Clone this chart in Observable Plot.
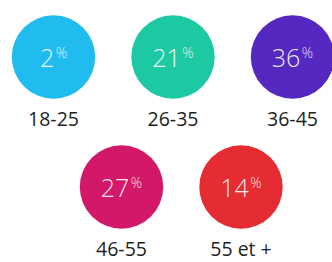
<!DOCTYPE html>
<html>
<head>
<meta charset="utf-8">
<script src="https://cdn.jsdelivr.net/npm/d3@7"></script>
<script src="https://cdn.jsdelivr.net/npm/@observablehq/plot@0.6"></script>
<style>
  html, body { margin: 0; padding: 0; background: #fff; }
  #chart { width: 332px; height: 262px; }
</style>
</head>
<body>
<div id="chart"></div>
<script>
// Data
const categories = ["18-25", "26-35", "36-45", "46-55", "55 et +"];
const values = [2, 21, 36, 27, 14];
const colors = ["#20bcef", "#1cc9a3", "#5428c1", "#d31769", "#e52c33"];

// Layout (positions computed from order: 3 on the first row, 2 on the second)
const W = 332, H = 262;
const R = 41.7;
const rowY = [56.5, 186.5];
const rowX0 = [53, 121];
const stepX = 119.5;
const perRow = 3;

const numFont = "300 25px 'Open Sans'";
const pctFont = "300 14px 'Open Sans'";
const ctx = document.createElement("canvas").getContext("2d");
function measure(txt, font) { ctx.font = font; return ctx.measureText(txt).width; }

const data = categories.map((c, i) => {
  const row = i < perRow ? 0 : 1;
  const col = row === 0 ? i : i - perRow;
  const num = String(values[i]);
  const wn = measure(num, numFont);
  const wp = measure("%", pctFont);
  const gap = 1.5;
  const total = wn + gap + wp;
  return {
    category: c,
    value: values[i],
    color: colors[i],
    x: rowX0[row] + col * stepX,
    y: rowY[row],
    row,
    numDx: -total / 2 + wn,      // end anchor of number
    pctDx: -total / 2 + wn + gap // start anchor of percent
  };
});

const chart = Plot.plot({
  width: W,
  height: H,
  margin: 0,
  x: { domain: [0, W], range: [0, W], axis: null },
  y: { domain: [0, H], range: [0, H], axis: null },
  marks: [
    Plot.dot(data, { x: "x", y: "y", r: R, fill: "color", stroke: "none" }),
    ...data.map(d => Plot.text([d], {
      x: "x", y: "y", text: v => String(v.value),
      dx: d.numDx, dy: 9.8, textAnchor: "end", lineAnchor: "bottom",
      fill: "#ffffff", fillOpacity: 0.92,
      fontFamily: "'Open Sans'", fontWeight: 300, fontSize: 25
    })),
    ...data.map(d => Plot.text([d], {
      x: "x", y: "y", text: () => "%",
      dx: d.pctDx, dy: 1.3, textAnchor: "start", lineAnchor: "bottom",
      fill: "#ffffff", fillOpacity: 0.88,
      fontFamily: "'Open Sans'", fontWeight: 300, fontSize: 14
    })),
    Plot.text(data, {
      x: "x", y: d => d.y + (d.row === 0 ? 69.2 : 69.3), text: "category",
      lineAnchor: "bottom", textAnchor: "middle",
      fill: "#1e1e1e", fontFamily: "'Open Sans'", fontSize: 19.5
    })
  ]
});
document.getElementById("chart").appendChild(chart);
</script>
</body>
</html>
